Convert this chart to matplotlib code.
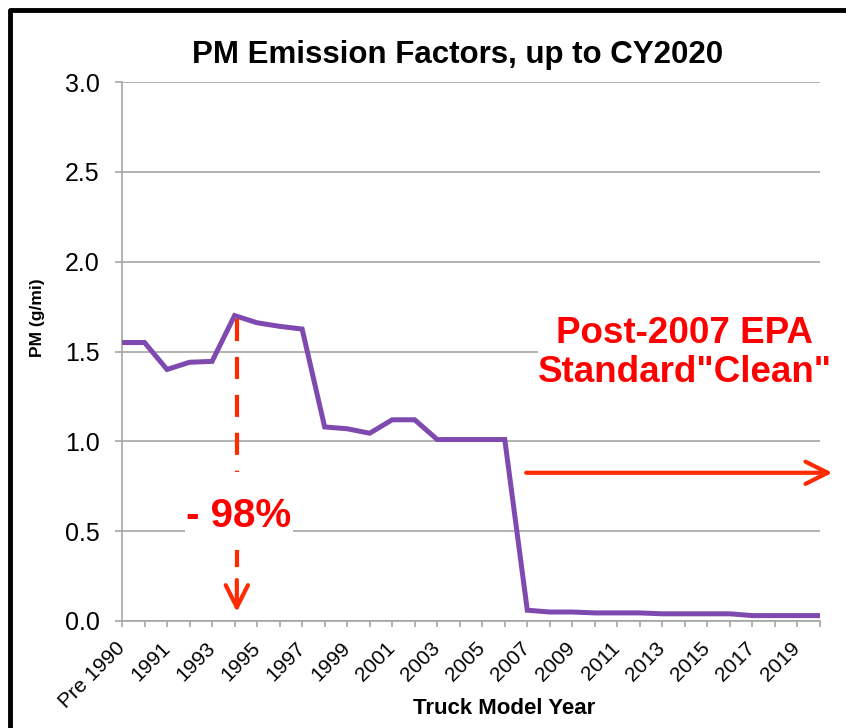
import numpy as np
import matplotlib.pyplot as plt
from matplotlib.patches import Rectangle

plt.rcParams['font.family'] = ['Liberation Sans', 'DejaVu Sans']

# truck model years and PM emission factors (g/mi)
years = ['Pre 1990'] + [str(y) for y in range(1990, 2021)]
pm = [1.55, 1.55, 1.40, 1.44, 1.445, 1.70, 1.66, 1.64, 1.625, 1.08, 1.07,
      1.045, 1.12, 1.12, 1.01, 1.01, 1.01, 1.01, 0.06, 0.05, 0.05, 0.045,
      0.045, 0.045, 0.04, 0.04, 0.04, 0.04, 0.03, 0.03, 0.03, 0.03]
yticks = [0.0, 0.5, 1.0, 1.5, 2.0, 2.5, 3.0]

purple = '#7F4AB0'
arrow_red = '#FF2A00'
grid_gray = '#A6A6A6'

fig = plt.figure(figsize=(8.46, 7.28), dpi=100)
ax = fig.add_axes([122/846, 1-621/728, (820-122)/846, (621-82)/728])

x = np.arange(len(years))
ax.plot(x, pm, color=purple, lw=3.6, solid_joinstyle='miter', zorder=3)

ax.set_xlim(0, len(years) - 1)
ax.set_ylim(0, 3.0)
ax.set_yticks(yticks)
ax.set_yticklabels([f'{v:.1f}' for v in yticks], fontsize=18)
ax.set_xticks(x)
ax.set_xticklabels([lab if i % 2 == 0 else '' for i, lab in enumerate(years)],
                   rotation=45, ha='right', va='center', rotation_mode='anchor',
                   fontsize=15)
ax.tick_params(axis='x', length=4.5, width=1.2, color=grid_gray, pad=13)
ax.tick_params(axis='y', length=5, width=1.2, color=grid_gray, pad=11)
ax.grid(axis='y', color=grid_gray, lw=1.2)
ax.set_axisbelow(True)
for s in ['top', 'right']:
    ax.spines[s].set_visible(False)
for s in ['left', 'bottom']:
    ax.spines[s].set_color(grid_gray)
    ax.spines[s].set_linewidth(1.2)

head = '->,head_length=1.6,head_width=0.8'
dash = (0, (5.3, 3.8))

# -98% dashed arrow
ax.plot([5.1, 5.1], [1.68, 0.83], color=arrow_red, lw=3, linestyle=dash, zorder=4)
ax.plot([5.1, 5.1], [0.385, 0.31], color=arrow_red, lw=3, zorder=4)
ax.annotate('', xy=(5.1, 0.05), xytext=(5.1, 0.228),
            arrowprops=dict(arrowstyle=head, color=arrow_red, lw=3,
                            shrinkA=0, shrinkB=0), zorder=4)
ax.text(5.2, 0.585, '- 98%', color='#FF0000', fontsize=29, fontweight='bold',
        ha='center', va='center', zorder=5,
        bbox=dict(facecolor='white', edgecolor='none', pad=1))

# post-2007 arrow
ax.annotate('', xy=(31.55, 0.825), xytext=(17.95, 0.825), annotation_clip=False,
            arrowprops=dict(arrowstyle=head, color=arrow_red, lw=3,
                            shrinkA=0, shrinkB=0))
ax.text(25.0, 1.49, 'Post-2007 EPA\nStandard"Clean"', color='#FF0000',
        fontsize=26.5, fontweight='bold', ha='center', va='center',
        linespacing=1.15, zorder=5,
        bbox=dict(facecolor='white', edgecolor='none', pad=0))

fig.text(458/846, 1-55/728, 'PM Emission Factors, up to CY2020',
         fontsize=22.5, fontweight='bold', ha='center', va='center')
fig.text(504/846, 1-708/728, 'Truck Model Year', fontsize=16,
         fontweight='bold', ha='center', va='center')
fig.text(37/846, 1-318/728, 'PM (g/mi)', fontsize=12.5, fontweight='bold',
         rotation=90, ha='center', va='center')

# outer frame (only top/left visible in the crop)
fig.patches.append(Rectangle((10/846, -0.1), 1.2, 1.1 - 10/728,
                             transform=fig.transFigure, fill=False,
                             edgecolor='black', lw=3.5,
                             joinstyle='round'))

fig.savefig('out.png', dpi=100)
